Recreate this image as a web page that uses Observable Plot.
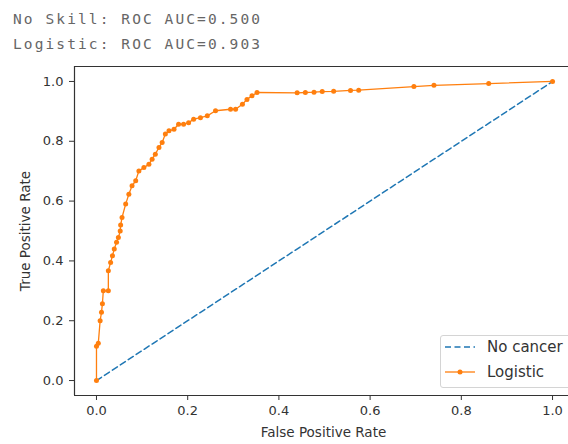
<!DOCTYPE html>
<html>
<head>
<meta charset="utf-8">
<script src="https://cdn.jsdelivr.net/npm/d3@7"></script>
<script src="https://cdn.jsdelivr.net/npm/@observablehq/plot@0.6"></script>
<style>
  html, body { margin: 0; padding: 0; background: #fff; }
  body { width: 568px; height: 444px; overflow: hidden; position: relative; }
  #head { box-sizing: border-box; height: 56px; padding: 7px 0 0 13px; font-family: "DejaVu Sans Mono", monospace; font-size: 14.5px; letter-spacing: 2.1px; line-height: 25px; color: #666; white-space: pre; }
  #legend { position: absolute; left: 440px; top: 335px; width: 150px; height: 53px; box-sizing: border-box; border: 1px solid #d4d4d4; border-radius: 3px; background: rgba(255,255,255,0.85); font-family: "DejaVu Sans", sans-serif; font-size: 15px; color: #333; }
  .row { position: absolute; left: 4px; height: 20px; display: flex; align-items: center; }
  .row span { margin-left: 12px; }
</style>
</head>
<body>
<div id="head"></div>
<div id="chart"></div>
<div id="legend"></div>
<script>
// ---- data ----
const summaryLines = ["No Skill: ROC AUC=0.500", "Logistic: ROC AUC=0.903"];
const seriesNames = ["No cancer", "Logistic"];
const nsFpr = [0, 1];
const nsTpr = [0, 1];
const lrFpr = [0.000, 0.000, 0.004, 0.008, 0.011, 0.013, 0.015, 0.026, 0.026, 0.031, 0.035, 0.039, 0.044, 0.048, 0.052, 0.053, 0.056, 0.064, 0.071, 0.078, 0.086, 0.093, 0.104, 0.115, 0.122, 0.129, 0.137, 0.144, 0.151, 0.159, 0.170, 0.180, 0.191, 0.202, 0.213, 0.228, 0.243, 0.261, 0.294, 0.305, 0.320, 0.330, 0.341, 0.352, 0.440, 0.458, 0.477, 0.495, 0.520, 0.557, 0.575, 0.696, 0.740, 0.860, 1.000];
const lrTpr = [0.000, 0.115, 0.125, 0.200, 0.228, 0.257, 0.300, 0.300, 0.367, 0.395, 0.417, 0.440, 0.462, 0.478, 0.500, 0.520, 0.545, 0.590, 0.623, 0.651, 0.668, 0.701, 0.712, 0.723, 0.740, 0.757, 0.779, 0.796, 0.824, 0.835, 0.840, 0.857, 0.857, 0.862, 0.874, 0.879, 0.885, 0.902, 0.907, 0.907, 0.924, 0.940, 0.952, 0.963, 0.962, 0.963, 0.964, 0.966, 0.967, 0.970, 0.971, 0.983, 0.987, 0.993, 1.000];
const xTicks = [0, 0.2, 0.4, 0.6, 0.8, 1.0];
const yTicks = [0, 0.2, 0.4, 0.6, 0.8, 1.0];
const xLabel = "False Positive Rate";
const yLabel = "True Positive Rate";

const colors = ["#1f77b4", "#ff7f0e"];

document.getElementById("head").textContent = summaryLines.join("\n");

const ns = nsFpr.map((x, i) => ({x, y: nsTpr[i]}));
const lr = lrFpr.map((x, i) => ({x, y: lrTpr[i]}));

const xDom = [-0.0482, 1.035];
const yDom = [-0.05, 1.05];

const chart = Plot.plot({
  width: 568,
  height: 388,
  marginLeft: 74,
  marginRight: 0,
  marginTop: 10,
  marginBottom: 49,
  x: {domain: xDom},
  y: {domain: yDom},
  style: {fontFamily: "DejaVu Sans, sans-serif", fontSize: "13px", color: "#333", background: "white"},
  marks: [
    Plot.axisX(xTicks, {tickFormat: d3.format(".1f"), tickSize: 5, tickPadding: 5, label: null, fontSize: 13}),
    Plot.axisY(yTicks, {tickFormat: d3.format(".1f"), tickSize: 5, tickPadding: 6, label: null, fontSize: 13}),
    Plot.ruleX([xDom[0]], {stroke: "#333", strokeWidth: 1.2}),
    Plot.ruleY(yDom, {stroke: "#333", strokeWidth: 1.2}),
    Plot.line(ns, {x: "x", y: "y", stroke: colors[0], strokeWidth: 1.5, strokeDasharray: "6,3.5"}),
    Plot.line(lr, {x: "x", y: "y", stroke: colors[1], strokeWidth: 1.3}),
    Plot.dot(lr, {x: "x", y: "y", r: 2.5, fill: colors[1], stroke: null}),
    Plot.text([xLabel], {text: d => d, frameAnchor: "bottom", textAnchor: "middle", lineAnchor: "middle", dy: 37, dx: 2, fontSize: 13.5, fill: "#333"}),
    Plot.text([yLabel], {text: d => d, frameAnchor: "left", textAnchor: "middle", lineAnchor: "middle", dx: -49, rotate: -90, fontSize: 13.5, fill: "#333"})
  ]
});
document.getElementById("chart").appendChild(chart);

// legend
const lg = document.getElementById("legend");
const swatches = [
  `<svg width="30" height="10"><line x1="0" y1="5" x2="30" y2="5" stroke="${colors[0]}" stroke-width="1.5" stroke-dasharray="6,3.5"/></svg>`,
  `<svg width="30" height="10"><line x1="0" y1="5" x2="30" y2="5" stroke="${colors[1]}" stroke-width="1.3"/><circle cx="15" cy="5" r="2.5" fill="${colors[1]}"/></svg>`
];
seriesNames.forEach((name, i) => {
  const row = document.createElement("div");
  row.className = "row";
  row.style.top = (i === 0 ? 1 : 26) + "px";
  row.innerHTML = swatches[i] + `<span>${name}</span>`;
  lg.appendChild(row);
});
</script>
</body>
</html>
